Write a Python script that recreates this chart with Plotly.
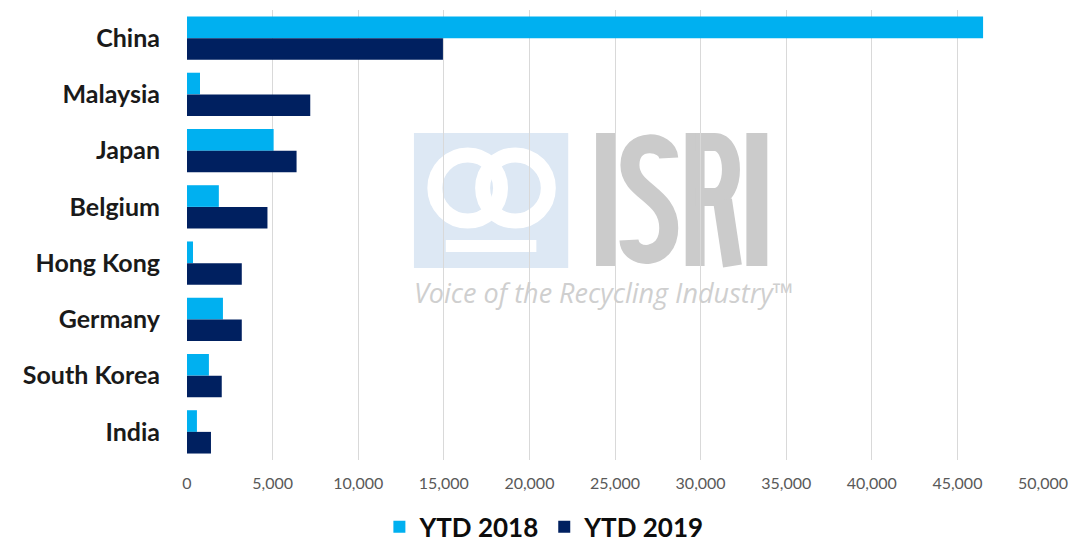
import plotly.graph_objects as go

countries = ["China", "Malaysia", "Japan", "Belgium", "Hong Kong", "Germany", "South Korea", "India"]
ytd_2018 = [46500, 760, 5060, 1860, 350, 2100, 1280, 580]
ytd_2019 = [14950, 7200, 6400, 4700, 3200, 3200, 2030, 1400]
x_ticks = [0, 5000, 10000, 15000, 20000, 25000, 30000, 35000, 40000, 45000, 50000]

L, R, T, B = 187, 1047, 10, 460
W, H = 1078, 546

def px(x):
    return (x - L) / (R - L)

def py(y):
    return (B - y) / (B - T)

def path(pts):
    s = ""
    for cmd, coords in pts:
        s += cmd + " " + " ".join(f"{px(x):.5f},{py(y):.5f}" for x, y in coords) + " "
    return s.strip()

fig = go.Figure()
fig.add_trace(go.Bar(y=countries, x=ytd_2018, name="YTD 2018", orientation="h",
                     marker=dict(color="#00B0F0", line=dict(width=0))))
fig.add_trace(go.Bar(y=countries, x=ytd_2019, name="YTD 2019", orientation="h",
                     marker=dict(color="#002060", line=dict(width=0))))

shapes = []
wm_gray = "#cbcbcb"
shapes.append(dict(type="rect", xref="paper", yref="paper", layer="below",
                   x0=px(415), x1=px(570), y0=py(268), y1=py(133),
                   fillcolor="#dde8f4", line=dict(width=0)))
for cx in (469, 517):
    shapes.append(dict(type="circle", xref="paper", yref="paper", layer="below",
                       x0=px(cx - 33), x1=px(cx + 33), y0=py(188 + 33), y1=py(188 - 33),
                       line=dict(color="white", width=15)))
shapes.append(dict(type="rect", xref="paper", yref="paper", layer="below",
                   x0=px(447), x1=px(538), y0=py(252), y1=py(240),
                   fillcolor="white", line=dict(width=0)))
for x0, x1 in ((598, 618), (749, 770)):
    shapes.append(dict(type="rect", xref="paper", yref="paper", layer="below",
                       x0=px(x0), x1=px(x1), y0=py(266), y1=py(133),
                       fillcolor=wm_gray, line=dict(width=0)))
shapes.append(dict(type="path", xref="paper", yref="paper", layer="below",
                   path=path([("M", [(671, 158)]),
                              ("C", [(670, 140), (632, 136), (632, 165)]),
                              ("C", [(632, 192), (671, 194), (671, 228)]),
                              ("C", [(671, 262), (632, 260), (631, 240)])]),
                   line=dict(color=wm_gray, width=19)))
shapes.append(dict(type="rect", xref="paper", yref="paper", layer="below",
                   x0=px(688), x1=px(707), y0=py(266), y1=py(133),
                   fillcolor=wm_gray, line=dict(width=0)))
shapes.append(dict(type="path", xref="paper", yref="paper", layer="below",
                   path=path([("M", [(698, 142)]), ("L", [(717, 142)]),
                              ("C", [(739, 142), (739, 197), (717, 197)]),
                              ("L", [(698, 197)])]),
                   line=dict(color=wm_gray, width=18)))
shapes.append(dict(type="path", xref="paper", yref="paper", layer="below",
                   path=path([("M", [(725, 200)]), ("L", [(735, 266)])]),
                   line=dict(color=wm_gray, width=19)))

annotations = [dict(text="<i>Voice of the Recycling Industry™</i>", xref="paper", yref="paper",
                    x=px(413), y=py(292), xanchor="left", yanchor="middle", showarrow=False,
                    font=dict(family="Open Sans", size=27, color="#cfcfcf"))]

fig.update_layout(
    width=W, height=H,
    margin=dict(l=L, r=W - R, t=T, b=H - B, pad=0),
    paper_bgcolor="white", plot_bgcolor="white",
    barmode="group", bargap=0.23, bargroupgap=0,
    shapes=shapes, annotations=annotations,
    showlegend=True,
    legend=dict(orientation="h", xref="container", yref="container",
                x=0.505, y=0.035, xanchor="center", yanchor="middle",
                font=dict(family="Lato", size=26, color="#0d0d0d", weight="bold"),
                itemsizing="constant", traceorder="normal"),
    font=dict(family="Lato"),
)
fig.update_xaxes(range=[0, 50000], tickvals=x_ticks, tickformat=",d",
                 showgrid=True, gridcolor="#d9d9d9", gridwidth=1,
                 zeroline=False, showline=False, ticks="",
                 tickfont=dict(family="Lato", size=16, color="#595959"),
                 ticklabelstandoff=12)
fig.update_yaxes(autorange="reversed", showgrid=False, zeroline=False, showline=False,
                 ticks="", tickfont=dict(family="Lato", size=25, color="#1a1a1a", weight="bold"),
                 ticklabelstandoff=26)

fig.write_html("out.html", config={"displayModeBar": False},
               post_script="document.body.style.margin='0';document.body.style.overflow='hidden';")
